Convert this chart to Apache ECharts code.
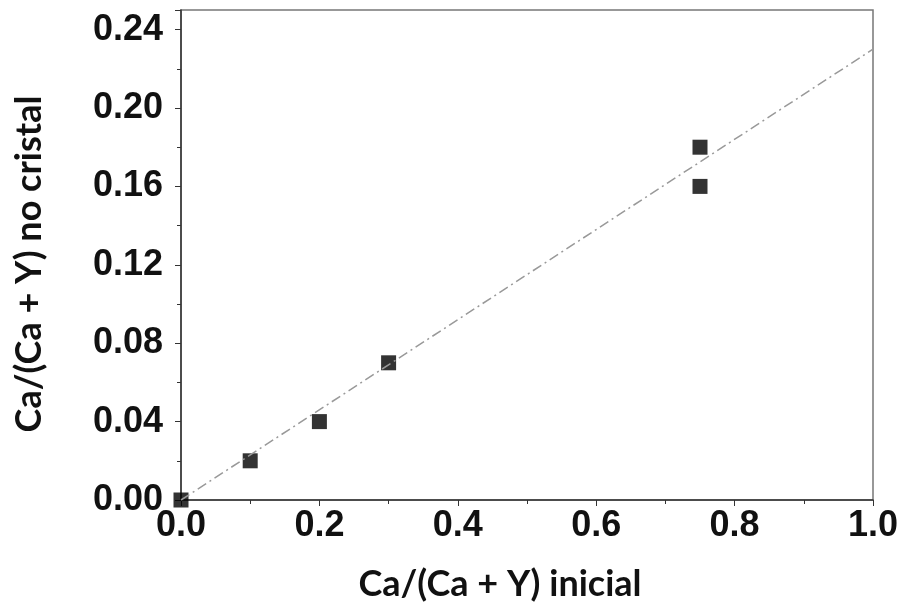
<!DOCTYPE html>
<html><head><meta charset="utf-8">
<script src="https://cdn.jsdelivr.net/npm/echarts@6/dist/echarts.min.js"></script>
<style>html,body{margin:0;padding:0;background:#fff}#c{width:903px;height:607px}</style>
</head><body><div id="c"></div>
<script>
const xValues = [0.0, 0.1, 0.2, 0.3, 0.75, 0.75];
const yValues = [0.0, 0.02, 0.04, 0.07, 0.18, 0.16];
const fitX = [0.0, 1.0];
const fitY = [0.0, 0.23];
const xTitle = 'Ca/(Ca + Y) inicial';
const yTitle = 'Ca/(Ca + Y) no cristal';

const tickFont = '"Liberation Sans", Arial, sans-serif';
const titleFont = 'Lato, "Open Sans", sans-serif';

const chart = echarts.init(document.getElementById('c'), null, {renderer: 'canvas'});
chart.setOption({
  animation: false,
  backgroundColor: '#fff',
  grid: {left: 181, right: 30, top: 10, bottom: 107, show: true, borderColor: '#777', borderWidth: 1.5},
  xAxis: {
    type: 'value', min: 0, max: 1.0, interval: 0.2,
    name: xTitle, nameLocation: 'middle', nameGap: 66,
    nameTextStyle: {fontFamily: titleFont, fontWeight: 'bold', fontSize: 36, color: '#111', padding: [0, 54, 0, 0]},
    axisLine: {show: true, lineStyle: {color: '#333', width: 1.5}},
    axisTick: {show: true, inside: false, length: 6, lineStyle: {color: '#333'}},
    minorTick: {show: true, splitNumber: 2, length: 4, lineStyle: {color: '#333'}},
    splitLine: {show: false},
    axisLabel: {margin: 8, fontFamily: tickFont, fontWeight: 'bold', fontSize: 36, color: '#111',
      formatter: v => v.toFixed(1)}
  },
  yAxis: {
    type: 'value', min: 0, max: 0.25, interval: 0.04,
    name: yTitle, nameLocation: 'middle', nameGap: 134,
    nameTextStyle: {fontFamily: titleFont, fontWeight: 'bold', fontSize: 36, color: '#111', padding: [0, 18, 0, 0]},
    axisLine: {show: true, lineStyle: {color: '#333', width: 1.5}},
    axisTick: {show: true, inside: false, length: 6, lineStyle: {color: '#333'}},
    minorTick: {show: true, splitNumber: 2, length: 4, lineStyle: {color: '#333'}},
    splitLine: {show: false},
    axisLabel: {margin: 18, showMaxLabel: false, fontFamily: tickFont, fontWeight: 'bold', fontSize: 36, color: '#111',
      formatter: v => v.toFixed(2)}
  },
  series: [
    {
      type: 'line', data: fitX.map((x, i) => [x, fitY[i]]), showSymbol: false, silent: true,
      lineStyle: {color: '#999', width: 1.5, type: [10, 4, 2, 4]}
    },
    {
      type: 'scatter', data: xValues.map((x, i) => [x, yValues[i]]), symbol: 'rect', symbolSize: 15,
      clip: false, itemStyle: {color: '#000'}
    }
  ]
});
</script></body></html>
